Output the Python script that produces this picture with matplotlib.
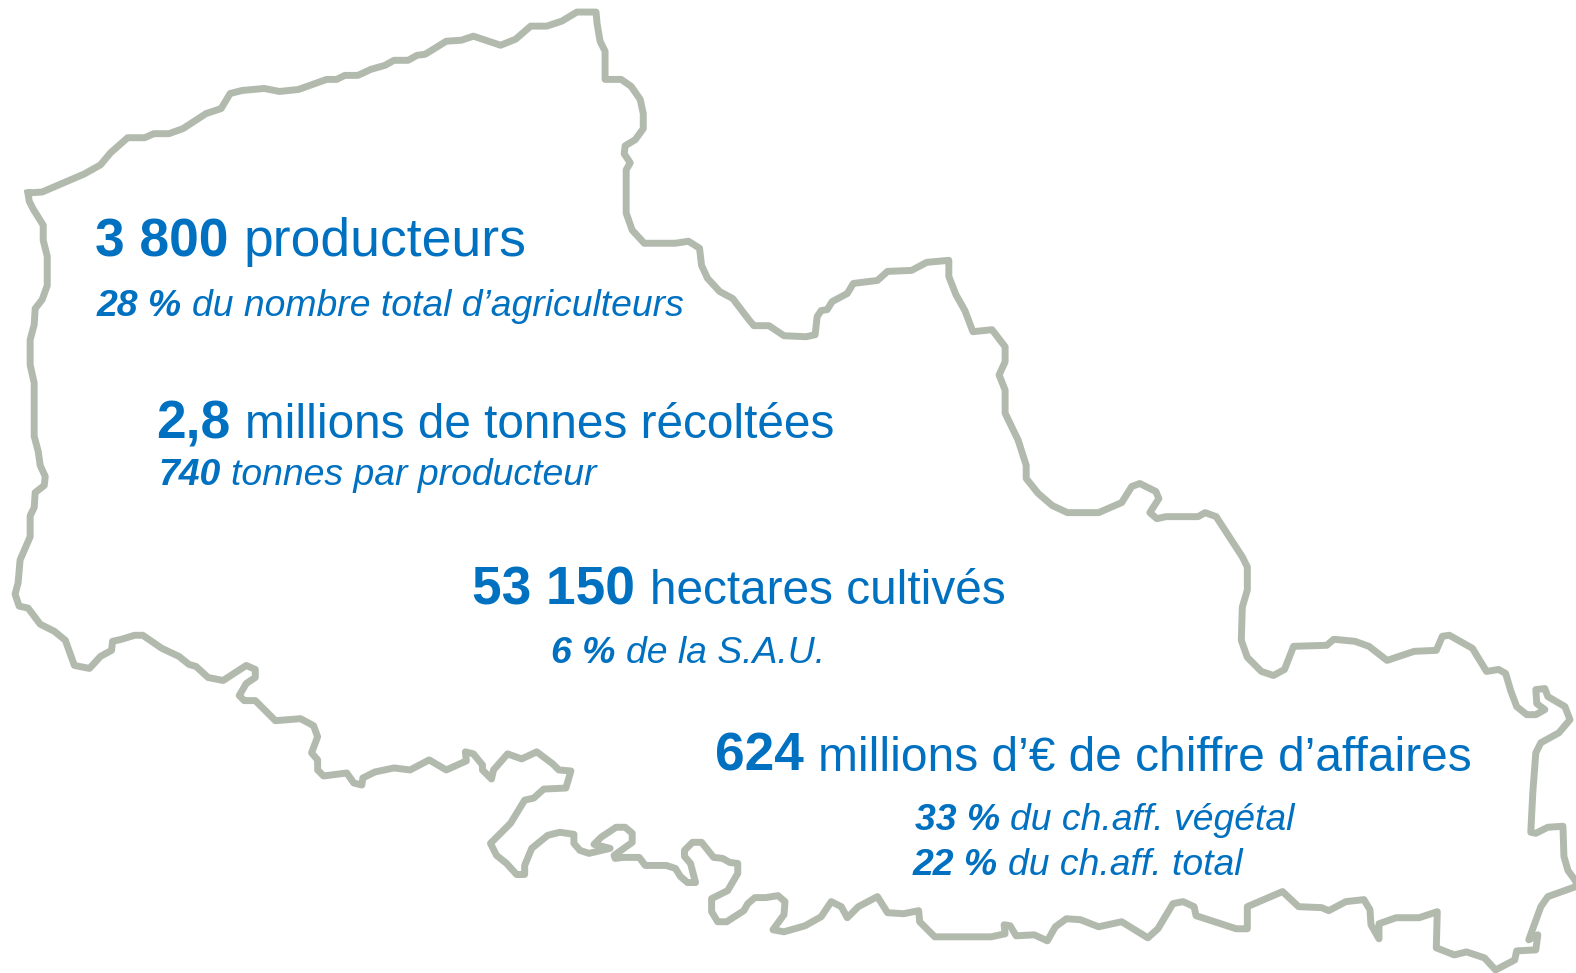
import matplotlib
matplotlib.use("Agg")
import matplotlib.pyplot as plt

# Region outline (pixels of the 1568x968 view)
outline = [
    (28, 192), (42, 191), (84, 173), (100, 164), (110, 152), (127, 137), (144, 137), (153, 133),
    (168, 133), (182, 128), (205, 113), (220, 108), (229, 93), (241, 90), (263, 88), (278, 91),
    (297, 89), (325, 79), (335, 79), (343, 75), (356, 75), (369, 69), (383, 65), (392, 60),
    (406, 60), (415, 55), (423, 54), (444, 41), (459, 40), (471, 36), (498, 45), (513, 39),
    (528, 26), (544, 26), (559, 21), (574, 12), (593, 12), (594, 23), (597, 41), (602, 51),
    (602, 79), (618, 79), (628, 86), (637, 99), (640, 113), (640, 128), (632, 139), (622, 145),
    (621, 153), (627, 162), (623, 169), (623, 212), (629, 229), (641, 242), (672, 242), (685, 240),
    (696, 247), (698, 264), (704, 277), (716, 290), (729, 297), (745, 318), (750, 324), (765, 324),
    (780, 334), (802, 335), (811, 333), (813, 315), (817, 309), (823, 308), (828, 300), (843, 292),
    (849, 282), (873, 279), (883, 270), (907, 269), (922, 261), (944, 259), (944, 275), (951, 293),
    (960, 309), (968, 330), (987, 328), (1000, 345), (1000, 360), (994, 373), (1000, 388), (1000, 411),
    (1013, 438), (1021, 463), (1021, 476), (1033, 491), (1047, 503), (1062, 510), (1093, 510), (1116, 500),
    (1126, 484), (1134, 481), (1150, 489), (1153, 496), (1144, 510), (1151, 516), (1160, 514), (1192, 514),
    (1199, 510), (1210, 514), (1236, 554), (1241, 564), (1241, 587), (1236, 604), (1235, 637), (1241, 654),
    (1255, 668), (1267, 672), (1278, 666), (1287, 643), (1320, 642), (1327, 636), (1348, 638), (1362, 643),
    (1380, 657), (1407, 648), (1429, 647), (1435, 633), (1442, 632), (1465, 645), (1468, 650), (1479, 668),
    (1491, 666), (1498, 670), (1503, 687), (1509, 703), (1519, 711), (1528, 711), (1537, 706), (1529, 700),
    (1528, 686), (1537, 685), (1540, 693), (1557, 703), (1562, 716), (1551, 729), (1533, 739), (1528, 749),
    (1525, 789), (1523, 828), (1528, 829), (1540, 823), (1555, 822), (1556, 852), (1560, 866), (1568, 877),
    (1568, 882), (1540, 892), (1533, 902), (1521, 935), (1530, 930), (1528, 945), (1509, 946), (1507, 955),
    (1488, 965), (1477, 953), (1459, 947), (1447, 950), (1429, 943), (1430, 907), (1412, 913), (1389, 913),
    (1372, 919), (1372, 934), (1364, 920), (1363, 905), (1357, 895), (1339, 897), (1322, 906), (1315, 903),
    (1292, 902), (1276, 887), (1241, 902), (1241, 924), (1230, 924), (1190, 911), (1188, 902), (1177, 897),
    (1167, 899), (1152, 924), (1142, 933), (1116, 917), (1093, 922), (1075, 915), (1061, 914), (1050, 922),
    (1042, 936), (1029, 930), (1011, 931), (1005, 921), (999, 920), (1000, 929), (986, 932), (930, 932),
    (915, 917), (914, 906), (899, 909), (883, 908), (873, 892), (854, 902), (843, 913), (837, 902),
    (827, 897), (817, 912), (801, 921), (780, 927), (769, 925), (780, 910), (781, 897), (774, 891),
    (762, 893), (751, 893), (744, 899), (740, 906), (723, 917), (714, 917), (708, 907), (708, 894),
    (724, 886), (734, 869), (734, 859), (726, 858), (719, 854), (710, 853), (698, 838), (689, 838),
    (681, 846), (681, 852), (687, 859), (692, 878), (684, 878), (677, 872), (672, 864), (663, 861),
    (642, 861), (636, 853), (620, 853), (612, 854), (611, 851), (629, 838), (629, 829), (622, 823),
    (613, 823), (598, 833), (591, 840), (607, 844), (586, 849), (577, 846), (571, 839), (571, 830),
    (557, 828), (545, 831), (529, 844), (522, 861), (522, 870), (514, 870), (504, 859), (494, 851),
    (488, 839), (508, 819), (522, 796), (531, 794), (541, 785), (563, 784), (568, 767), (556, 766),
    (550, 760), (534, 748), (519, 755), (505, 750), (491, 766), (489, 775), (480, 766), (480, 761),
    (471, 750), (463, 748), (464, 757), (444, 766), (427, 756), (408, 766), (392, 764), (373, 768),
    (361, 774), (360, 781), (352, 779), (345, 769), (322, 772), (316, 766), (316, 756), (310, 749),
    (316, 733), (312, 722), (299, 715), (274, 717), (254, 697), (243, 697), (238, 692), (245, 680),
    (254, 674), (254, 666), (245, 662), (222, 677), (207, 674), (195, 663), (188, 661), (178, 653),
    (161, 645), (142, 632), (134, 632), (121, 636), (112, 638), (111, 647), (100, 653), (89, 665),
    (74, 662), (65, 637), (54, 628), (40, 621), (28, 605), (19, 603), (15, 591), (18, 580),
    (20, 557), (30, 534), (30, 513), (34, 505), (35, 490), (44, 483), (45, 474), (40, 463),
    (38, 449), (34, 434), (34, 381), (30, 363), (30, 338), (34, 323), (35, 307), (42, 298),
    (47, 284), (47, 255), (43, 239), (43, 224), (33, 208), (29, 200),
]

# Headline figures: number, rest of the line, x, baseline y, size of the rest
headlines = [
    ("3 800", "producteurs", 95, 255, 38.5),
    ("2,8", "millions de tonnes récoltées", 155, 436, 34.4),
    ("53 150", "hectares cultivés", 470, 601, 34.4),
    ("624", "millions d’€ de chiffre d’affaires", 711, 767, 34.5),
]
# Smaller italic lines under them
details = [
    ("28 %", "du nombre total d’agriculteurs", 96, 314),
    ("740", "tonnes par producteur", 158, 483),
    ("6 %", "de la S.A.U.", 548, 660),
    ("33 %", "du ch.aff. végétal", 910, 826),
    ("22 %", "du ch.aff. total", 908, 871),
]

BLUE = "#0070C0"
GREY = "#B2BAAE"

plt.rcParams["font.family"] = ["Liberation Sans", "DejaVu Sans"]

fig = plt.figure(figsize=(15.76, 9.73), dpi=100)
ax = fig.add_axes([0, 0, 1, 1])
ax.set_xlim(0, 1568)
ax.set_ylim(968, 0)
ax.axis("off")

xs = [p[0] for p in outline] + [outline[0][0]]
ys = [p[1] for p in outline] + [outline[0][1]]
ax.plot(xs, ys, color=GREY, linewidth=5.0, solid_joinstyle="round", clip_on=False)

renderer = fig.canvas.get_renderer()


def two_part(first, rest, x, y, size, rest_size, italic):
    style = "italic" if italic else "normal"
    t = ax.text(x, y, first, fontsize=size, fontweight="bold", fontstyle=style,
                color=BLUE, va="baseline", ha="left")
    x1 = ax.transData.inverted().transform(t.get_window_extent(renderer))[1][0]
    # a space is 0.278 em in this family; the size is in points at 100 dpi
    gap = 0.278 * size * 100 / 72
    ax.text(x1 + gap, y, rest, fontsize=rest_size, fontstyle=style,
            color=BLUE, va="baseline", ha="left")


for first, rest, x, y, rest_size in headlines:
    two_part(first, rest, x, y, 38.3, rest_size, False)
for first, rest, x, y in details:
    two_part(first, rest, x, y, 26.9, 26.9, True)

fig.savefig("out.png", dpi=100)
